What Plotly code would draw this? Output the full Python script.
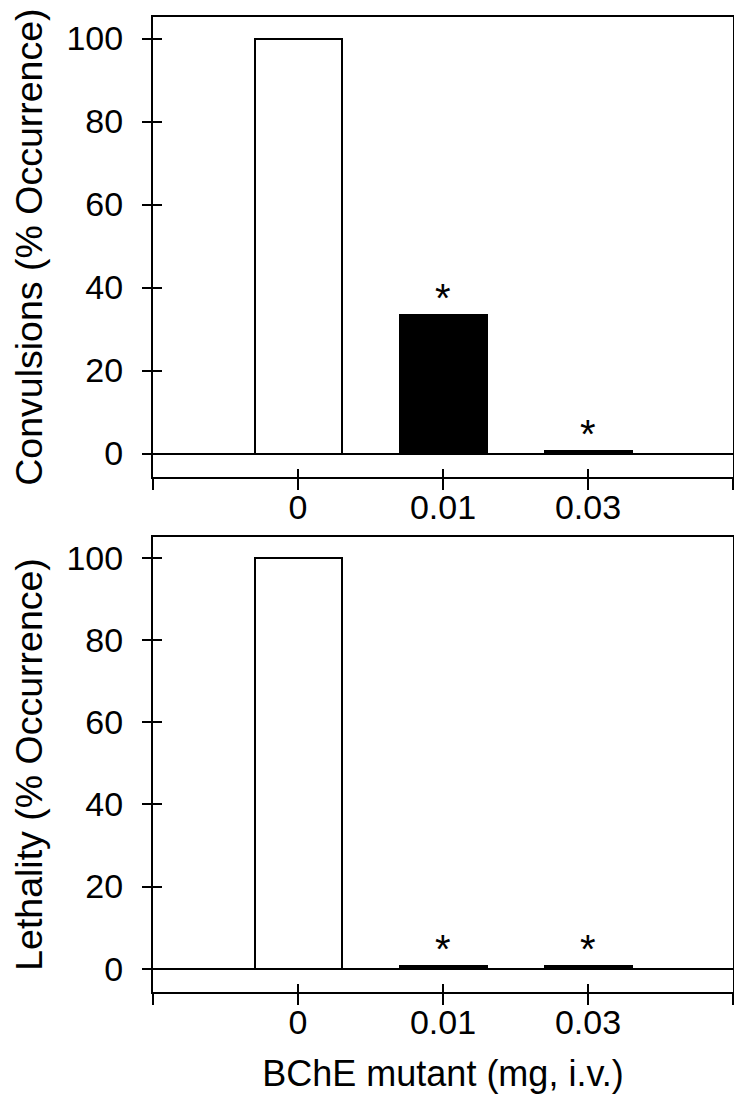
import plotly.graph_objects as go

# ---- data
DOSES = ["0", "0.01", "0.03"]                 # BChE mutant, mg i.v.
CONVULSIONS = [100, 33.3, 0.7]                # % occurrence
LETHALITY = [100, 0.7, 0.7]                   # % occurrence
CONV_SIG = [False, True, True]                # * p<0.05 vs control
LETH_SIG = [False, True, True]
Y_TICKS = [0, 20, 40, 60, 80, 100]

FONT = "Liberation Sans, Arial, Helvetica, sans-serif"
W, H = 726, 1102          # page body keeps an 8px margin round the plot div
Y_RANGE = [-5.7, 105.2]

xpos = list(range(len(DOSES)))
tickvals = [-1] + xpos + [len(DOSES)]
ticktext = [""] + DOSES + [""]
fills = ["white" if d == "0" else "black" for d in DOSES]

panels = [
    ("Convulsions (% Occurrence)", CONVULSIONS, CONV_SIG, [0.528, 1.0]),
    ("Lethality (% Occurrence)", LETHALITY, LETH_SIG, [0.0, 0.4667]),
]

fig = go.Figure()
layout = {}
annotations = []
line = dict(color="black", width=2)

for i, (ytitle, vals, sig, dom) in enumerate(panels):
    n = i + 1
    xa, ya = "x" if n == 1 else "x%d" % n, "y" if n == 1 else "y%d" % n
    ov = n + 2  # overlay axes for the inner half of the crossing ticks
    fig.add_trace(go.Bar(x=xpos, y=vals, width=0.6, xaxis=xa, yaxis=ya,
                         marker=dict(color=fills, line=line),
                         showlegend=False, hoverinfo="skip"))
    fig.add_trace(go.Scatter(x=[xpos[0]], y=[0], xaxis="x%d" % ov, yaxis="y%d" % ov,
                             mode="markers", marker=dict(opacity=0),
                             showlegend=False, hoverinfo="skip"))
    layout["xaxis" if n == 1 else "xaxis%d" % n] = dict(
        domain=[0, 1], anchor=ya, range=[-1, len(DOSES)], automargin=False,
        tickmode="array", tickvals=tickvals, ticktext=ticktext,
        ticks="outside", ticklen=11, tickwidth=2, tickcolor="black", ticklabelstandoff=-12,
        showline=True, linewidth=2, linecolor="black", mirror=True,
        showgrid=False, zeroline=False,
        tickfont=dict(size=34, color="black", family=FONT),
        title=dict(text="BChE mutant (mg, i.v.)" if n == 2 else "",
                   font=dict(size=36, color="black", family=FONT), standoff=21))
    layout["yaxis" if n == 1 else "yaxis%d" % n] = dict(
        domain=dom, anchor=xa, range=Y_RANGE, automargin=False,
        tickmode="array", tickvals=Y_TICKS,
        ticks="outside", ticklen=9, tickwidth=2, tickcolor="black", ticklabelstandoff=12,
        showline=True, linewidth=2, linecolor="black", mirror=True,
        showgrid=False, zeroline=True, zerolinewidth=2, zerolinecolor="black",
        tickfont=dict(size=34, color="black", family=FONT),
        title=dict(text=ytitle, font=dict(size=37.5, color="black", family=FONT), standoff=25))
    layout["xaxis%d" % ov] = dict(
        overlaying=xa, anchor="y%d" % ov, range=[-1, len(DOSES)], automargin=False,
        tickmode="array", tickvals=tickvals, ticks="inside", ticklen=8, tickwidth=2,
        tickcolor="black", showticklabels=False, showline=False, showgrid=False, zeroline=False)
    layout["yaxis%d" % ov] = dict(
        overlaying=ya, anchor="x%d" % ov, range=Y_RANGE, side="left", automargin=False,
        tickmode="array", tickvals=Y_TICKS, ticks="inside", ticklen=9, tickwidth=2,
        tickcolor="black", showticklabels=False, showline=False, showgrid=False, zeroline=False)
    for x, v, s in zip(xpos, vals, sig):
        if s:
            annotations.append(dict(x=x, y=v, xref=xa, yref=ya, text="*", showarrow=False,
                                    yanchor="bottom", yshift=-7,
                                    font=dict(size=40, color="black", family=FONT)))

fig.update_layout(
    width=W, height=H, paper_bgcolor="white", plot_bgcolor="white",
    margin=dict(l=145, r=1, t=9, b=118, autoexpand=False), bargap=0,
    annotations=annotations, **layout)

fig.write_html("out.html")
